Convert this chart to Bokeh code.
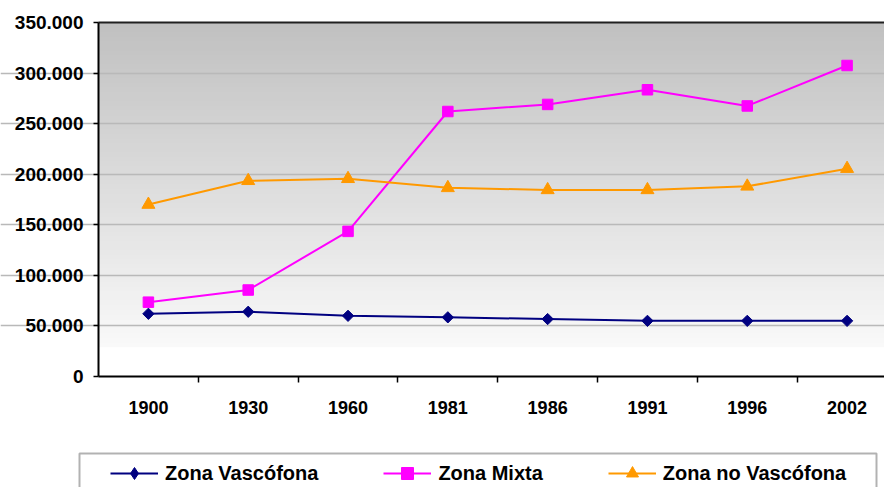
from bokeh.plotting import figure
from bokeh.models import (Range1d, FixedTicker, Legend, LegendItem, BoxAnnotation, LinearAxis)
from bokeh.embed import file_html
from bokeh.resources import INLINE

# ---- data ----
years = ["1900", "1930", "1960", "1981", "1986", "1991", "1996", "2002"]
zona_vascofona = [62000, 64000, 60000, 58500, 56800, 55000, 55000, 55000]
zona_mixta = [73500, 85500, 143500, 262000, 269000, 283500, 267500, 307500]
zona_no_vascofona = [170000, 193500, 195500, 186500, 184500, 184500, 188000, 205500]
y_ticks = [0, 50000, 100000, 150000, 200000, 250000, 300000, 350000]
y_tick_labels = ["0", "50.000", "100.000", "150.000", "200.000", "250.000", "300.000", "350.000"]
series_names = ["Zona Vascófona", "Zona Mixta", "Zona no Vascófona"]

pos = list(range(len(years)))
FONT = "Liberation Sans"

# ---- layout (pixels) ----
W, H = 884, 487
PL, PT, PB = 98, 22, 376          # plot area left / top / bottom (px)
cat_px = (W - PL) / (len(years) - 0.125)   # px per category
y_lo, y_hi = y_ticks[0], y_ticks[-1]
upp = (y_hi - y_lo) / (PB - PT)    # data units per px (y)

def xd(px):
    return -0.5 + (px - PL) / cat_px

def yd(py):
    return y_lo + (PB - py) * upp

x_start, x_end = xd(0), xd(W)

p = figure(width=W, height=H, output_backend="svg", toolbar_location=None,
           x_range=Range1d(x_start, x_end), y_range=Range1d(yd(H), yd(0)),
           x_axis_location=None, y_axis_location=None,
           min_border=0, min_border_left=0, min_border_right=0,
           min_border_top=0, min_border_bottom=0)
p.outline_line_color = None
p.background_fill_color = "white"
p.border_fill_color = "white"

# gradient background (styling)
g_bottom = 29000
N = 70
c_top, c_bot = 192, 249
for i in range(N):
    b = g_bottom + (y_hi - g_bottom) * i / N
    t = g_bottom + (y_hi - g_bottom) * (i + 1.6) / N
    frac = (i + 0.5) / N
    c = int(round(c_bot + (c_top - c_bot) * frac))
    p.add_layout(BoxAnnotation(left=-0.5, bottom=b, top=min(t, y_hi), fill_color=(c, c, c),
                               fill_alpha=1, line_color=None, level="image"))

# grid
p.xgrid.visible = False
p.ygrid.ticker = FixedTicker(ticks=y_ticks[1:-1])
p.ygrid.grid_line_color = "#b9b9b9"
p.ygrid.grid_line_width = 1.5
p.ygrid.bounds = (-0.5, x_end)

# top border
top_ax = LinearAxis(fixed_location=y_hi, ticker=FixedTicker(ticks=[]), bounds=(-0.5, x_end),
                    axis_line_color="#202020", axis_line_width=2,
                    major_tick_line_color=None, minor_tick_line_color=None)
p.add_layout(top_ax, "above")

# axes
xa = LinearAxis(fixed_location=y_lo, bounds=(-0.5, x_end))
ya = LinearAxis(fixed_location=-0.5, bounds=(y_lo, y_hi))
for ax in (xa, ya):
    ax.axis_line_color = "black"
    ax.axis_line_width = 2
    ax.major_label_text_font = FONT
    ax.major_label_text_font_style = "bold"
    ax.major_label_text_color = "black"

ya.ticker = FixedTicker(ticks=y_ticks)
ya.major_label_overrides = {t: l for t, l in zip(y_ticks, y_tick_labels)}
ya.major_label_text_font_size = "19px"
ya.major_tick_out = 5
ya.major_tick_in = 0
ya.major_tick_line_width = 1.5
ya.minor_tick_line_color = None
ya.major_label_standoff = 10

xa.ticker = FixedTicker(ticks=pos, minor_ticks=[i + 0.5 for i in pos])
xa.major_label_overrides = {i: y for i, y in zip(pos, years)}
xa.major_label_text_font_size = "18px"
xa.major_tick_line_color = None
xa.major_tick_out = 0
xa.major_tick_in = 0
xa.minor_tick_line_color = "black"
xa.minor_tick_line_width = 1.5
xa.minor_tick_out = 6
xa.minor_tick_in = 0
xa.major_label_standoff = 18

p.add_layout(xa, "below")
p.add_layout(ya, "left")

# series
l1 = p.line(pos, zona_vascofona, line_color="#000080", line_width=2)
m1 = p.scatter(pos, zona_vascofona, marker="square", angle=0.785398, size=8,
               fill_color="#000080", line_color="#000080")
l2 = p.line(pos, zona_mixta, line_color="#ff00ff", line_width=2)
m2 = p.scatter(pos, zona_mixta, marker="square", size=10.5,
               fill_color="#ff00ff", line_color="#ff00ff")
l3 = p.line(pos, zona_no_vascofona, line_color="#ff9900", line_width=2)
m3 = p.scatter(pos, zona_no_vascofona, marker="triangle", size=13,
               fill_color="#ff9900", line_color="#ff9900")
# hidden twin of the first series, used only for the legend swatch (diamond)
k1 = p.scatter(pos, zona_vascofona, marker="diamond", fill_color="#000080",
               line_color="#000080", visible=False)

legend = Legend(items=[LegendItem(label=series_names[0], renderers=[l1, k1]),
                       LegendItem(label=series_names[1], renderers=[l2, m2]),
                       LegendItem(label=series_names[2], renderers=[l3, m3])],
                location=(110, -1), orientation="horizontal",
                border_line_color=None, background_fill_alpha=0,
                padding=0, margin=0, spacing=65, glyph_width=48, glyph_height=30,
                label_height=20, label_standoff=7,
                label_text_font=FONT, label_text_font_style="bold",
                label_text_font_size="20px", label_text_color="black")
p.add_layout(legend)

# legend frame
p.add_layout(BoxAnnotation(left=xd(79), right=xd(876), top=yd(453), bottom=yd(H + 10),
                           fill_alpha=0, line_color="black", line_width=2, level="overlay"))

open("out.html", "w").write(file_html(p, INLINE))
